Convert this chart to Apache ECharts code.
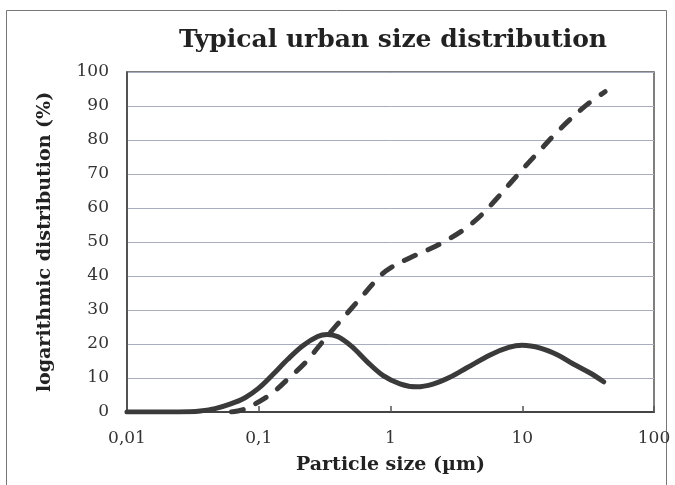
<!DOCTYPE html>
<html>
<head>
<meta charset="utf-8">
<script src="https://cdn.jsdelivr.net/npm/echarts@6/dist/echarts.min.js"></script>
<style>
html,body{margin:0;padding:0;background:#fff;}
#c{width:675px;height:485px;}
</style>
</head>
<body>
<div id="c"></div>
<script>
// Particle size (µm) and logarithmic distribution (%)
var solidX = [0.01, 0.02, 0.03, 0.036, 0.0466, 0.0605, 0.0787, 0.1, 0.128, 0.166, 0.216, 0.28, 0.33, 0.4, 0.51, 0.66, 0.88, 1.18, 1.58, 2.1, 2.82, 3.8, 5.7, 7.9, 10, 13.7, 18.6, 24.2, 33, 41.5];
var solidY = [0, 0, 0.1, 0.3, 1, 2.3, 4.2, 7, 11, 15.5, 19.5, 22.2, 22.8, 22.1, 19.2, 14.9, 10.7, 8.3, 7.4, 8.2, 10.2, 13.0, 16.8, 19, 19.6, 18.8, 16.8, 14.2, 11.4, 8.9];

var dashX = [0.062, 0.0787, 0.1022, 0.1328, 0.1725, 0.2243, 0.2915, 0.379, 0.493, 0.64, 0.832, 1, 1.41, 2.0, 2.73, 3.74, 4.95, 6.21, 8.07, 10.5, 13.6, 17.7, 23, 31, 42.5];
var dashY = [0, 0.9, 3.2, 6.2, 10.3, 14.4, 19.7, 25, 30, 35, 40, 42.4, 45.4, 48.0, 50.7, 54.1, 58.1, 62.2, 67.2, 72.2, 76.9, 81.7, 86.0, 90.4, 94.2];

var xTickValues = [0.01, 0.1, 1, 10, 100];
var xTickLabels = ['0,01', '0,1', '1', '10', '100'];

var titleText = 'Typical urban size distribution';
var yName = 'logarithmic distribution (%)';
var xName = 'Particle size (\u00b5m)';

function pairs(xs, ys) { return xs.map(function (x, i) { return [x, ys[i]]; }); }
function labelFor(v) {
  for (var i = 0; i < xTickValues.length; i++) {
    if (Math.abs(Math.log10(v) - Math.log10(xTickValues[i])) < 1e-6) return xTickLabels[i];
  }
  return '';
}

var serif = '"DejaVu Serif", "Liberation Serif", serif';
var chart = echarts.init(document.getElementById('c'), null, {renderer: 'canvas'});
chart.setOption({
  animation: false,
  backgroundColor: '#ffffff',
  title: {
    text: titleText,
    left: 388, top: 23, textAlign: 'center',
    textStyle: {fontFamily: serif, fontWeight: 'bold', fontSize: 25, color: '#222'}
  },
  graphic: [{
    type: 'rect', shape: {x: 6.5, y: 10.5, width: 660, height: 490},
    style: {fill: 'none', stroke: '#777', lineWidth: 1}, silent: true
  }],
  grid: {left: 127, right: 21, top: 72, bottom: 73, show: true, borderColor: '#555', borderWidth: 1.5, backgroundColor: 'transparent'},
  xAxis: {
    type: 'log', logBase: 10, min: 0.01, max: 100,
    name: xName, nameLocation: 'middle', nameGap: 44,
    nameTextStyle: {fontFamily: serif, fontWeight: 'bold', fontSize: 19, color: '#222'},
    axisLine: {show: true, lineStyle: {color: '#444', width: 2}},
    axisTick: {show: true, inside: true, length: 6, lineStyle: {color: '#555', width: 1.5}},
    axisLabel: {formatter: labelFor, margin: 18, fontFamily: serif, fontSize: 17, color: '#333'},
    splitLine: {show: false}, minorTick: {show: false}
  },
  yAxis: {
    type: 'value', min: 0, max: 100, interval: 10,
    name: yName, nameLocation: 'middle', nameGap: 72, nameRotate: 90,
    nameTextStyle: {fontFamily: serif, fontWeight: 'bold', fontSize: 19, color: '#222'},
    axisLine: {show: true, lineStyle: {color: '#444', width: 1.5}},
    axisTick: {show: false},
    axisLabel: {margin: 18, fontFamily: serif, fontSize: 17, color: '#333'},
    splitLine: {show: true, lineStyle: {color: '#a9acbc', width: 1}}
  },
  series: [
    {
      type: 'line', data: pairs(solidX, solidY), smooth: 0.35, symbol: 'none',
      lineStyle: {color: '#3a3a3a', width: 5, cap: 'round', join: 'round'}
    },
    {
      type: 'line', data: pairs(dashX, dashY), smooth: 0.35, symbol: 'none',
      lineStyle: {color: '#3a3a3a', width: 5, type: [12, 14], cap: 'round', join: 'round'}
    }
  ]
});
</script>
</body>
</html>
